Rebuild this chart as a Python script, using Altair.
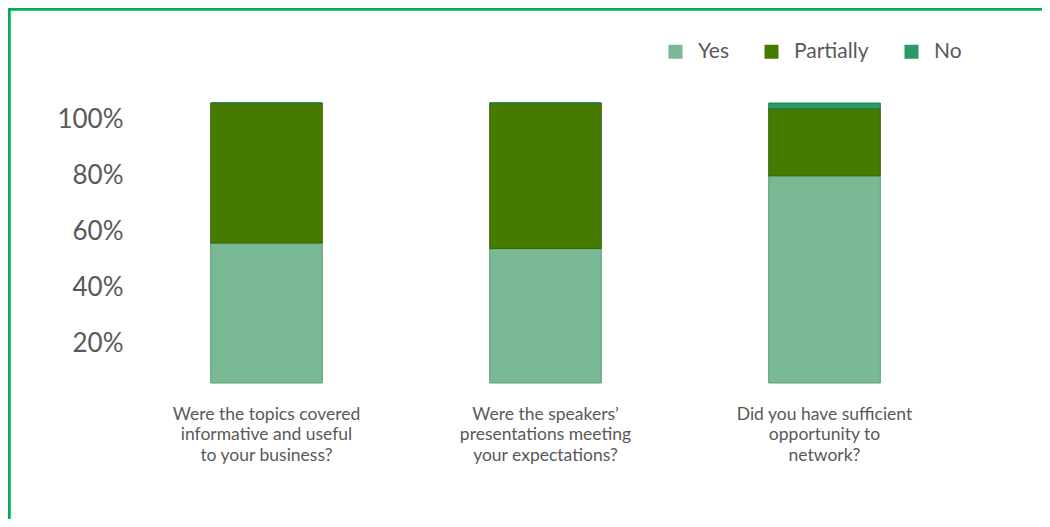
import altair as alt
import pandas as pd

questions = [
    "Were the topics covered\ninformative and useful\nto your business?",
    "Were the speakers’\npresentations meeting\nyour expectations?",
    "Did you have sufficient\nopportunity to\nnetwork?",
]
answers = ["Yes", "Partially", "No"]
yes_vals = [0.50, 0.48, 0.74]
partial_vals = [0.50, 0.52, 0.24]
no_vals = [0.00, 0.00, 0.02]

colors = ["#79B994", "#477A00", "#2A9A66"]
strokes = ["#5E9C78", "#3A6200", "#1E7D50"]

rows = []
for q, y, p, n in zip(questions, yes_vals, partial_vals, no_vals):
    for a, v in zip(answers, [y, p, n]):
        rows.append({"question": q, "answer": a, "value": v, "order": answers.index(a)})
df = pd.DataFrame(rows)

W, H = 837, 280

bars = alt.Chart(df).mark_bar(strokeWidth=1).encode(
    x=alt.X("question:N", sort=questions, title=None,
            scale=alt.Scale(paddingInner=0.6, paddingOuter=0.3),
            axis=alt.Axis(labelExpr="split(datum.label, '\\n')", labelAngle=0,
                          labelFontSize=17.5, labelLineHeight=20.5, labelPadding=22,
                          labelBaseline="top", labelColor="#595959", labelFont="Lato",
                          domain=False, ticks=False, labelLimit=400)),
    y=alt.Y("value:Q", stack="zero", title=None,
            scale=alt.Scale(domain=[0, 1], nice=False),
            axis=alt.Axis(values=[0.2, 0.4, 0.6, 0.8, 1.0], format=".0%",
                          labelFontSize=26, labelFont="Lato", labelColor="#595959",
                          labelOffset=16, labelPadding=4, domain=False, ticks=False,
                          grid=False)),
    color=alt.Color("answer:N", sort=answers,
                    scale=alt.Scale(domain=answers, range=colors),
                    legend=alt.Legend(title=None, orient="none", direction="horizontal",
                                      legendX=538, legendY=-62, symbolType="square",
                                      symbolSize=196, symbolStrokeWidth=0,
                                      labelFontSize=21, labelFont="Lato",
                                      labelColor="#595959", columnPadding=32,
                                      symbolOffset=0, labelOffset=12, padding=0)),
    stroke=alt.Stroke("answer:N", sort=answers,
                      scale=alt.Scale(domain=answers, range=strokes), legend=None),
    order=alt.Order("order:Q"),
)

border_df = pd.DataFrame({"k": [0]})
left_border = alt.Chart(border_df).mark_rule(color="#00B050", strokeWidth=3.5).encode(
    x=alt.value(-118), y=alt.value(-96), y2=alt.value(H + 140))
top_border = alt.Chart(border_df).mark_rule(color="#00B050", strokeWidth=3.5).encode(
    x=alt.value(-120), x2=alt.value(W + 100), y=alt.value(-94))

chart = alt.layer(bars, left_border, top_border).properties(
    width=W, height=H,
    background="white",
    autosize=alt.AutoSizeParams(type="none"),
    padding={"left": 119, "top": 95, "right": 78, "bottom": 136},
).configure_view(strokeWidth=0, stroke=None)

chart.save("out.html", embed_options={"renderer": "svg", "actions": False})
